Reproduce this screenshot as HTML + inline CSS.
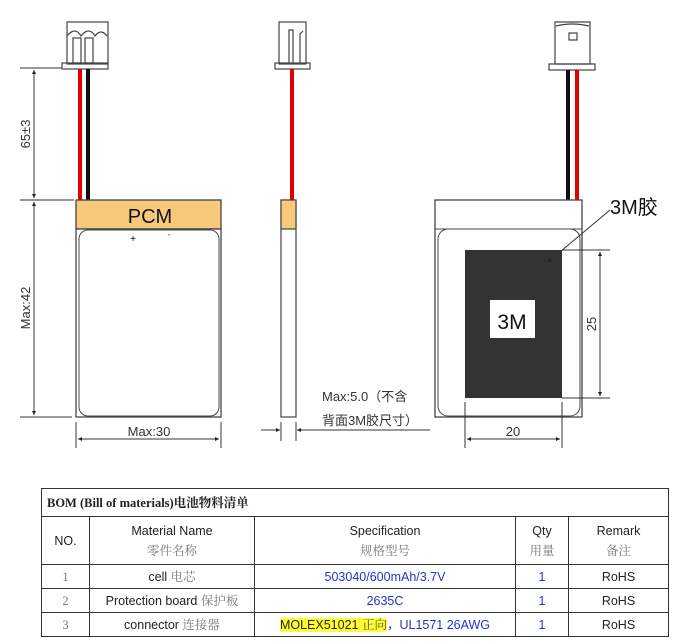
<!DOCTYPE html>
<html><head><meta charset="utf-8"><style>
body{margin:0;background:#fff;width:680px;height:644px;overflow:hidden;position:relative;font-family:"Liberation Sans","Noto Sans CJK SC",sans-serif}
svg{position:absolute;left:0;top:0}
table{position:absolute;left:41px;top:488px;width:628px;border-collapse:collapse;font-size:12.5px;color:#222}
td{border:1.3px solid #333;text-align:center;padding:0;line-height:20px}
.t{text-align:left;font-family:"Liberation Serif","Noto Serif CJK SC",serif;font-weight:bold;font-size:12.5px;height:27px;padding-left:5px}
.cn{color:#777;font-family:"Liberation Serif","Noto Serif CJK SC",serif}
.b{color:#2233cc}
.y{background:#ffff33}
</style></head><body>
<svg width="680" height="480" viewBox="0 0 680 480" font-family="Liberation Sans, Noto Sans CJK SC, sans-serif">
<defs><marker id="a" viewBox="0 0 10 10" refX="10" refY="5" markerWidth="10" markerHeight="4" orient="auto-start-reverse" markerUnits="userSpaceOnUse"><path d="M0,0L10,5L0,10z" fill="#222"/></marker></defs>
<g stroke="#444" fill="none" stroke-width="1.2">
<rect x="67" y="22" width="41" height="42"/><rect x="62" y="63" width="46" height="6"/>
<path d="M67,36 q8,-10 14,0 q8,-10 14,0 q6,-8 12,0"/><rect x="73" y="38" width="8" height="25"/><rect x="85" y="38" width="8" height="25"/>
<rect x="279" y="22" width="27" height="42"/><rect x="275" y="63" width="35" height="6"/><path d="M289,64V30h4v34M300,64V34l3,-3"/>
<path d="M555,22h35v42h-35z"/><rect x="549" y="64" width="46" height="6"/><rect x="569" y="33" width="8" height="7"/><path d="M556,26q16,-4 33,0"/>
</g>
<line x1="80" y1="69" x2="80" y2="200" stroke="#e30000" stroke-width="4"/>
<line x1="88" y1="69" x2="88" y2="200" stroke="#111" stroke-width="4"/>
<line x1="292" y1="69" x2="292" y2="200" stroke="#e30000" stroke-width="4"/>
<line x1="568" y1="70" x2="568" y2="200" stroke="#111" stroke-width="4"/>
<line x1="577" y1="70" x2="577" y2="200" stroke="#e30000" stroke-width="4"/>
<rect x="76" y="200" width="145" height="29" fill="#f7c97a" stroke="#444" stroke-width="1.3"/>
<rect x="76" y="229" width="145" height="188" fill="#fff" stroke="#444" stroke-width="1.3"/>
<rect x="79" y="230" width="140" height="186" rx="9" fill="none" stroke="#444" stroke-width="1"/>
<text x="150" y="223" font-size="20" text-anchor="middle" fill="#111">PCM</text>
<text x="133" y="242" font-size="10" text-anchor="middle">+</text><text x="169" y="240" font-size="8" text-anchor="middle">'</text>
<rect x="281" y="200" width="15" height="217" fill="#fff" stroke="#444" stroke-width="1.2"/>
<rect x="281" y="200" width="15" height="29" fill="#f7c97a" stroke="#444" stroke-width="1.2"/>
<rect x="435" y="200" width="147" height="217" fill="#fff" stroke="#444" stroke-width="1.3"/>
<line x1="435" y1="229" x2="582" y2="229" stroke="#444"/>
<rect x="438" y="229" width="142" height="187" rx="10" fill="none" stroke="#444"/>
<rect x="465" y="250" width="97" height="148" fill="#333"/>
<rect x="490" y="300" width="45" height="38" fill="#fff"/>
<text x="512" y="329" font-size="21" text-anchor="middle" fill="#111">3M</text>
<text x="610" y="214" font-size="20" fill="#111">3M胶</text>
<line x1="610" y1="210" x2="548" y2="262" stroke="#333" marker-end="url(#a)"/>
<g stroke="#333" stroke-width="1" fill="none">
<line x1="20" y1="68" x2="62" y2="68"/><line x1="20" y1="200" x2="74" y2="200"/><line x1="20" y1="417" x2="72" y2="417"/>
<line x1="34" y1="70" x2="34" y2="198" marker-start="url(#a)" marker-end="url(#a)"/>
<line x1="34" y1="202" x2="34" y2="415" marker-start="url(#a)" marker-end="url(#a)"/>
<line x1="76" y1="422" x2="76" y2="448"/><line x1="221" y1="422" x2="221" y2="448"/>
<line x1="78" y1="439" x2="219" y2="439" marker-start="url(#a)" marker-end="url(#a)"/>
<line x1="281" y1="422" x2="281" y2="441"/><line x1="296" y1="422" x2="296" y2="441"/>
<line x1="261" y1="430" x2="280" y2="430" marker-end="url(#a)"/><line x1="430" y1="430" x2="297" y2="430" marker-end="url(#a)"/>
<line x1="562" y1="250" x2="610" y2="250"/><line x1="562" y1="398" x2="610" y2="398"/>
<line x1="600" y1="252" x2="600" y2="396" marker-start="url(#a)" marker-end="url(#a)"/>
<line x1="465" y1="402" x2="465" y2="448"/><line x1="562" y1="402" x2="562" y2="448"/>
<line x1="467" y1="439" x2="560" y2="439" marker-start="url(#a)" marker-end="url(#a)"/>
</g>
<g font-size="13" fill="#333">
<text transform="translate(30,134) rotate(-90)" text-anchor="middle">65±3</text>
<text transform="translate(30,308) rotate(-90)" text-anchor="middle">Max:42</text>
<text x="149" y="436" text-anchor="middle">Max:30</text>
<text x="513" y="436" text-anchor="middle">20</text>
<text transform="translate(596,324) rotate(-90)" text-anchor="middle">25</text>
<text x="322" y="401">Max:5.0（不含</text>
<text x="322" y="425">背面3M胶尺寸）</text>
</g>
</svg>
<table>
<tr><td colspan="5" class="t">BOM (Bill of materials)电池物料清单</td></tr>
<tr style="height:48px"><td style="width:47px">NO.</td><td style="width:164px">Material Name<br><span class="cn">零件名称</span></td><td style="width:260px">Specification<br><span class="cn">规格型号</span></td><td style="width:52px">Qty<br><span class="cn">用量</span></td><td>Remark<br><span class="cn">备注</span></td></tr>
<tr style="height:24px"><td class="cn">1</td><td>cell <span class="cn">电芯</span></td><td class="b">503040/600mAh/3.7V</td><td class="b">1</td><td>RoHS</td></tr>
<tr style="height:24px"><td class="cn">2</td><td>Protection board <span class="cn">保护板</span></td><td class="b">2635C</td><td class="b">1</td><td>RoHS</td></tr>
<tr style="height:24px"><td class="cn">3</td><td>connector <span class="cn">连接器</span></td><td><span class="y">MOLEX51021 <span class="cn" style="color:#555">正向</span></span><span class="b">，UL1571 26AWG</span></td><td class="b">1</td><td>RoHS</td></tr>
</table>
</body></html>
